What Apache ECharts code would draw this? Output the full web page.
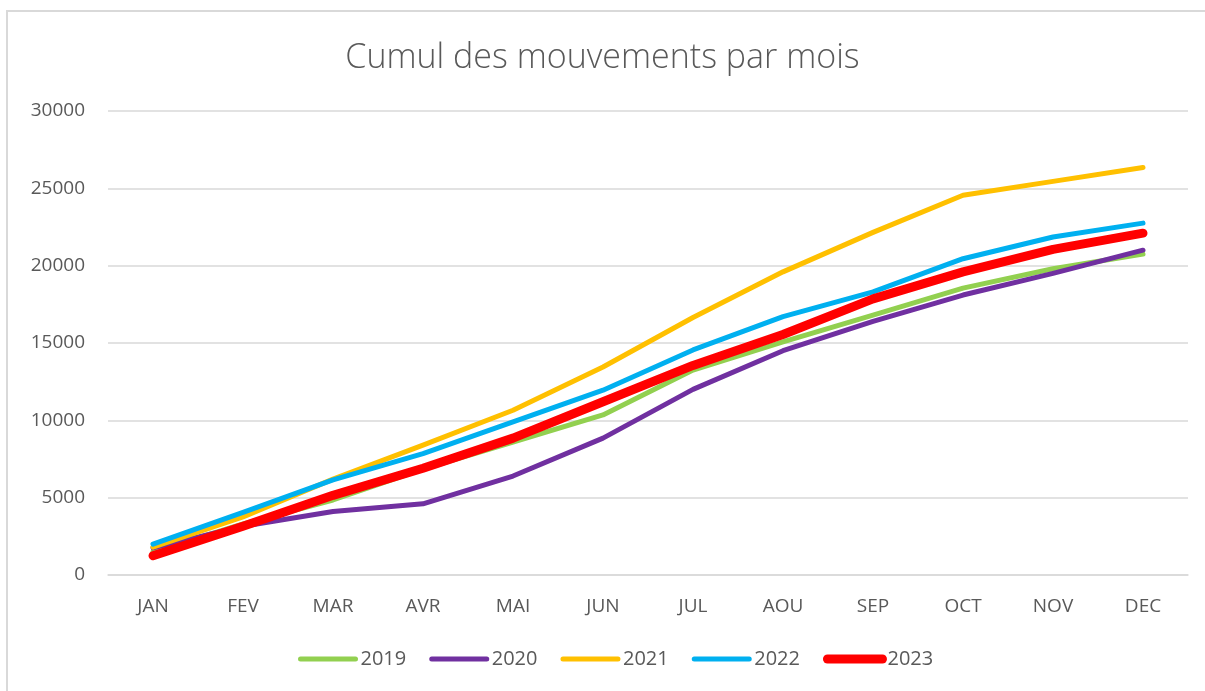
<!DOCTYPE html>
<html>
<head>
<meta charset="utf-8">
<title>Cumul des mouvements par mois</title>
<script src="https://cdn.jsdelivr.net/npm/echarts@6/dist/echarts.min.js"></script>
<style>
  html, body { margin: 0; padding: 0; background: #fff; }
  #frame { position: absolute; left: 6px; top: 10px; width: 1220px; height: 700px; border: 2px solid #d9d9d9; }
  #chart { position: absolute; left: 0; top: 0; width: 1205px; height: 691px; }
</style>
</head>
<body>
<div id="frame"></div>
<div id="chart"></div>
<script>
  const months = ['JAN', 'FEV', 'MAR', 'AVR', 'MAI', 'JUN', 'JUL', 'AOU', 'SEP', 'OCT', 'NOV', 'DEC'];

  const y2019 = [1500, 3300, 4850, 6850, 8600, 10350, 13250, 15080, 16800, 18550, 19800, 20750];
  const y2020 = [1750, 3150, 4100, 4600, 6400, 8850, 12000, 14500, 16400, 18100, 19500, 21000];
  const y2021 = [1800, 3750, 6200, 8400, 10650, 13450, 16650, 19600, 22150, 24550, 25450, 26350];
  const y2022 = [2000, 4050, 6150, 7850, 9900, 11950, 14550, 16700, 18300, 20450, 21850, 22750];
  const y2023 = [1250, 3150, 5150, 6900, 8850, 11200, 13550, 15550, 17850, 19600, 21050, 22100];

  const seriesDefs = [
    { name: '2019', data: y2019, color: '#92D050', width: 5 },
    { name: '2020', data: y2020, color: '#7030A0', width: 5 },
    { name: '2021', data: y2021, color: '#FFC000', width: 5 },
    { name: '2022', data: y2022, color: '#00B0F0', width: 5 },
    { name: '2023', data: y2023, color: '#FF0000', width: 9 }
  ];

  const font = '"Open Sans", "Noto Sans", sans-serif';
  const chart = echarts.init(document.getElementById('chart'));

  chart.setOption({
    animation: false,
    title: {
      text: 'Cumul des mouvements par mois',
      left: 'center',
      top: 36,
      textStyle: { fontFamily: font, fontSize: 34, fontWeight: 300, color: '#595959' }
    },
    legend: {
      bottom: 17,
      left: 293,
      itemWidth: 55,
      itemHeight: 16,
      itemGap: 23,
      itemStyle: { opacity: 0 },
      textStyle: { fontFamily: font, fontSize: 20, color: '#595959' },
      data: seriesDefs.map(s => ({
        name: s.name,
        lineStyle: { width: s.width, color: s.color, cap: 'round' }
      }))
    },
    grid: { left: 108, right: 17, top: 111, bottom: 116 },
    xAxis: {
      type: 'category',
      data: months,
      boundaryGap: true,
      axisLine: { lineStyle: { color: '#d9d9d9', width: 1.5 } },
      axisTick: { show: false },
      axisLabel: { margin: 22, fontFamily: font, fontSize: 19, color: '#595959' }
    },
    yAxis: {
      type: 'value',
      min: 0,
      max: 30000,
      interval: 5000,
      axisLine: { show: false },
      axisTick: { show: false },
      splitLine: { lineStyle: { color: '#d9d9d9', width: 1.5 } },
      axisLabel: { margin: 23, fontFamily: font, fontSize: 19, color: '#595959', formatter: v => String(v) }
    },
    series: seriesDefs.map(s => ({
      name: s.name,
      type: 'line',
      data: s.data,
      showSymbol: false,
      symbol: 'none',
      color: s.color,
      lineStyle: { color: s.color, width: s.width, cap: 'round', join: 'round' },
      itemStyle: { color: s.color }
    }))
  });
</script>
</body>
</html>
